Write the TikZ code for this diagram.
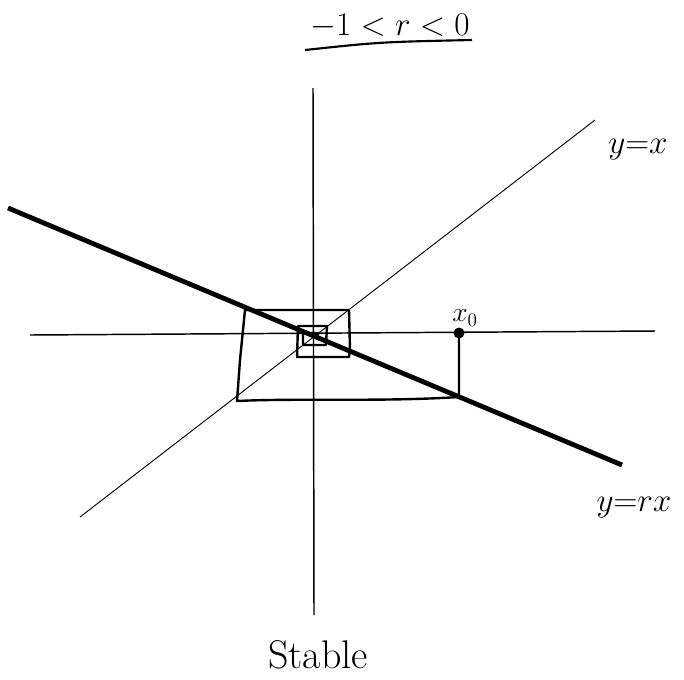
\documentclass[tikz,border=0pt]{standalone}
\begin{document}
\begin{tikzpicture}[x=0.75pt,y=-0.75pt,
  axis/.style={line width=1.1pt},
  diag/.style={line width=0.7pt},
  rline/.style={line width=3.6pt},
  web/.style={line width=1.8pt,line join=round},
  lbl/.style={font=\fontsize{28}{32}\selectfont}]
\useasboundingbox (0,0) rectangle (684,679);
% axes
\coordinate (vt) at (313,88); \coordinate (vb) at (314,615);
\coordinate (hl) at (30,335); \coordinate (hr) at (655,331);
\draw[axis] (vt) -- (vb);
\draw[axis] (hl) -- (hr);
% y = x
\coordinate (d1) at (80,517); \coordinate (d2) at (595,120);
\draw[diag] (d1) -- (d2);
% y = rx
\coordinate (r1) at (8,208); \coordinate (r2) at (622,465);
\draw[rline] (r1) -- (r2);
% cobweb
\coordinate (x0) at (459,333);
\draw[web] (x0) -- (459,397) .. controls (380,402) and (300,398) .. (237,401)
  -- (240,360) -- (245,310) -- (349,310) -- (350,350) -- (349,357) -- (297,357)
  -- (298,326) -- (327,326) -- (326,345) -- (303,345) -- (303,333) -- (318,333) -- (318,340);
\fill (x0) circle (5.5);
% labels
\node[lbl] (title) at (390,26) {$-1<r<0$};
\draw[line width=1.6pt] (305,50) .. controls (380,42) .. (472,40);
\node[lbl] (lyx) at (638,150) {$y{=}x$};
\node[lbl] (lyrx) at (634,508) {$y{=}rx$};
\node[font=\fontsize{20}{24}\selectfont] (lx0) at (465,318) {$x_0$};
\node[font=\fontsize{30}{34}\selectfont] (stable) at (318,655) {Stable};
\end{tikzpicture}
\end{document}
